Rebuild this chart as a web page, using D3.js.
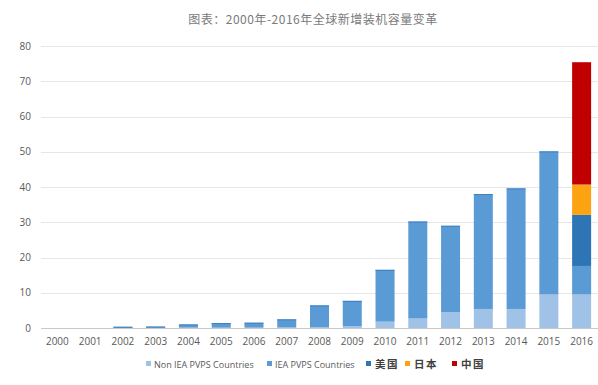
<!DOCTYPE html>
<html>
<head>
<meta charset="utf-8">
<script src="https://cdn.jsdelivr.net/npm/d3@7"></script>
<style>
  body { margin: 0; background: #fff; }
  text { font-family: "Open Sans", "Liberation Sans", sans-serif; }
</style>
</head>
<body>
<div id="chart"></div>
<script>
// years on x axis
const years = ["2000","2001","2002","2003","2004","2005","2006","2007","2008","2009","2010","2011","2012","2013","2014","2015","2016"];

// GW added per year
const nonIea = [0, 0, 0.05, 0.05, 0.1, 0.1, 0.1, 0.15, 0.2, 0.5, 1.8, 2.7, 4.5, 5.4, 5.4, 9.5, 9.5];
const iea    = [0, 0, 0.3, 0.35, 0.9, 1.3, 1.4, 2.3, 6.2, 7.2, 14.7, 27.5, 24.5, 32.6, 34.2, 40.6, 8.1];
const usa    = [0,0,0,0,0,0,0,0,0,0,0,0,0,0,0,0, 14.5];
const japan  = [0,0,0,0,0,0,0,0,0,0,0,0,0,0,0,0, 8.6];
const china  = [0,0,0,0,0,0,0,0,0,0,0,0,0,0,0,0, 34.7];

const seriesNames = ["Non IEA PVPS Countries", "IEA PVPS Countries", "美国", "日本", "中国"];
const seriesColors = ["#9fc2e6", "#5b9bd5", "#2e75b6", "#fca311", "#c00000"];
const yTicks = [0, 10, 20, 30, 40, 50, 60, 70, 80];

const width = 598, height = 385;
const margin = {top: 46, right: 0, bottom: 57, left: 41};

const svg = d3.select('#chart').append('svg')
    .attr('width', width)
    .attr('height', height);

// title
svg.append('text')
    .attr('x', 313)
    .attr('y', 24)
    .attr('text-anchor', 'middle')
    .attr('fill', '#7a7a7a')
    .style('font-family', '"Noto Sans CJK SC", sans-serif')
    .style('font-size', '12px')
    .style('letter-spacing', '0.5px')
    .text('图表：2000年-2016年全球新增装机容量变革');

let rows = years.map(function (y, i) {
    return {year: y, s0: nonIea[i], s1: iea[i], s2: usa[i], s3: japan[i], s4: china[i]};
});

const keys = ["s0", "s1", "s2", "s3", "s4"];
const stacked = d3.stack().keys(keys)(rows);

const x = d3.scaleBand()
    .domain(years)
    .range([margin.left, width - margin.right])
    .paddingInner(0.42)
    .paddingOuter(0.21);

const y = d3.scaleLinear()
    .domain([0, 80])
    .range([height - margin.bottom, margin.top]);

// gridlines
svg.append('g')
    .selectAll('line')
    .data(yTicks)
    .enter()
    .append('line')
    .attr('x1', margin.left)
    .attr('x2', width - margin.right)
    .attr('y1', d => Math.round(y(d)) + 0.5)
    .attr('y2', d => Math.round(y(d)) + 0.5)
    .attr('stroke', d => d === 0 ? '#c8c8c8' : '#e6e6e6')
    .attr('stroke-width', 1);

// y labels
svg.append('g')
    .selectAll('text')
    .data(yTicks)
    .enter()
    .append('text')
    .attr('x', 31)
    .attr('y', d => y(d) + 3.5)
    .attr('text-anchor', 'end')
    .attr('fill', '#595959')
    .style('font-size', '10px')
    .text(d => d);

// x labels
svg.append('g')
    .selectAll('text')
    .data(years)
    .enter()
    .append('text')
    .attr('x', d => x(d) + x.bandwidth() / 2)
    .attr('y', height - margin.bottom + 17)
    .attr('text-anchor', 'middle')
    .attr('fill', '#595959')
    .style('font-size', '10px')
    .text(d => d);

// bars
let layers = svg.append('g')
    .selectAll('g')
    .data(stacked)
    .enter()
    .append('g')
    .attr('fill', (d, i) => seriesColors[i]);

layers.selectAll('rect')
    .data(d => d.filter(p => p[1] > p[0]))
    .enter()
    .append('rect')
    .attr('x', d => x(d.data.year))
    .attr('width', x.bandwidth())
    .attr('y', d => y(d[1]))
    .attr('height', d => y(d[0]) - y(d[1]));

// thin darker cap on top of the blue columns
svg.append('g')
    .selectAll('line')
    .data(rows.filter(r => r.s2 === 0 && r.s1 > 0))
    .enter()
    .append('line')
    .attr('x1', d => x(d.year))
    .attr('x2', d => x(d.year) + x.bandwidth())
    .attr('y1', d => y(d.s0 + d.s1) + 0.5)
    .attr('y2', d => y(d.s0 + d.s1) + 0.5)
    .attr('stroke', '#3f7fc0')
    .attr('stroke-width', 1);

// legend
const legendX = [146, 267, 366, 405, 452];
const legend = svg.append('g')
    .selectAll('g')
    .data(seriesNames)
    .enter()
    .append('g')
    .attr('transform', (d, i) => `translate(${legendX[i]},364)`);

legend.append('rect')
    .attr('x', 0)
    .attr('y', -3)
    .attr('width', 5)
    .attr('height', 5)
    .attr('fill', (d, i) => seriesColors[i]);

legend.append('text')
    .attr('x', (d, i) => i < 2 ? 8 : 9)
    .attr('y', 3.5)
    .attr('fill', (d, i) => i < 2 ? '#595959' : '#404040')
    .style('font-size', (d, i) => i < 2 ? '9px' : '10.5px')
    .style('letter-spacing', (d, i) => i < 2 ? '0px' : '1.5px')
    .style('font-family', (d, i) => i < 2 ? '"Open Sans", sans-serif' : '"Noto Sans CJK SC", sans-serif')
    .style('font-weight', (d, i) => i < 2 ? 'normal' : 'bold')
    .text(d => d);
</script>
</body>
</html>
